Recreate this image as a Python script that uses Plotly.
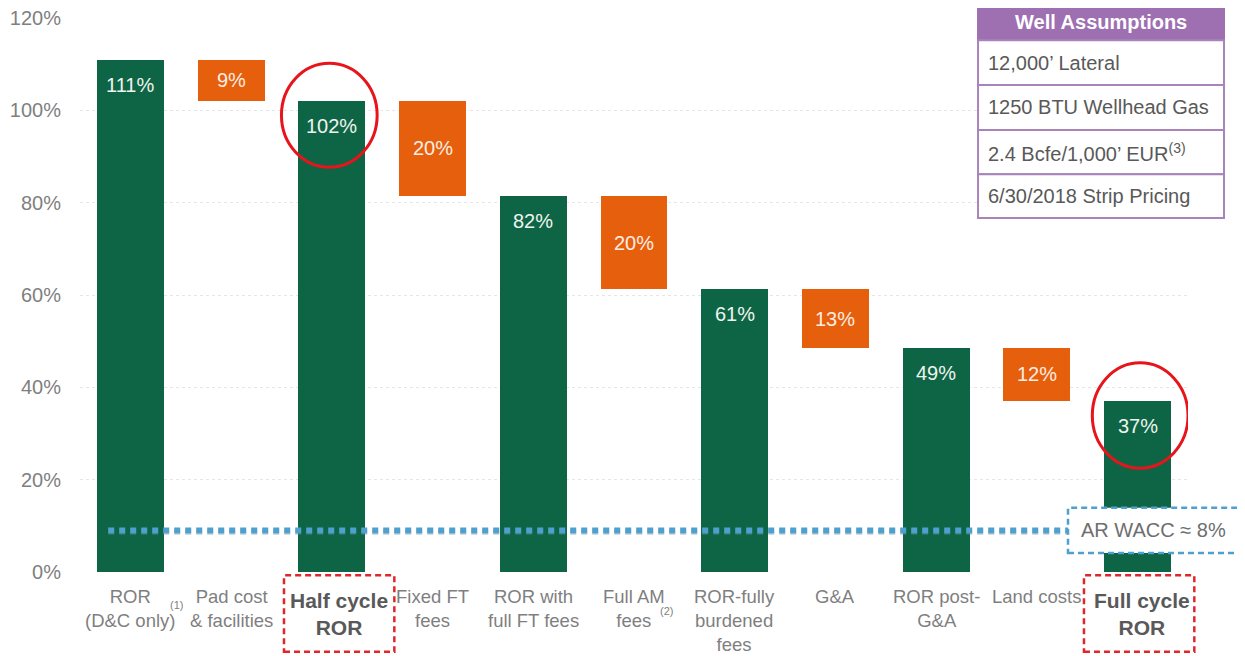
import plotly.graph_objects as go

# ---------------- data ----------------
categories = ["ROR<br>(D&C only)", "Pad cost<br>& facilities", "Half cycle<br>ROR", "Fixed FT<br>fees",
              "ROR with<br>full FT fees", "Full AM<br>fees", "ROR-fully<br>burdened<br>fees", "G&A",
              "ROR post-<br>G&A", "Land costs", "Full cycle<br>ROR"]
total_idx = [0, 2, 4, 6, 8, 10]
total_values = [111.0, 102.0, 81.5, 61.2, 48.6, 37.0]
total_labels = ["111%", "102%", "82%", "61%", "49%", "37%"]
decr_idx = [1, 3, 5, 7, 9]
decr_labels = ["9%", "20%", "20%", "13%", "12%"]
wacc_value = 9.0
wacc_text = "AR WACC ≈ 8%"
table_header = "Well Assumptions"
table_rows = ["12,000’ Lateral", "1250 BTU Wellhead Gas", "2.4 Bcfe/1,000’ EUR<sup>(3)</sup>",
              "6/30/2018 Strip Pricing"]
y_ticks = [0, 20, 40, 60, 80, 100, 120]

GREEN = "#0E6545"
ORANGE = "#E65F0D"
GREY = "#7F7F7F"
FONT = "Liberation Sans, Arial, sans-serif"
BW = 0.665

# decrement bars span from previous total to next total
decr_base = [total_values[k + 1] for k in range(len(decr_idx))]
decr_height = [total_values[k] - total_values[k + 1] for k in range(len(decr_idx))]

fig = go.Figure()
fig.add_trace(go.Bar(x=total_idx, y=total_values, width=BW, marker=dict(color=GREEN, line=dict(width=0)),
                     hoverinfo="skip", showlegend=False))
fig.add_trace(go.Bar(x=decr_idx, y=decr_height, base=decr_base, width=BW,
                     marker=dict(color=ORANGE, line=dict(width=0)), hoverinfo="skip", showlegend=False))

ann = []
for i, v, t in zip(total_idx, total_values, total_labels):
    ann.append(dict(x=i, y=v, text=t, showarrow=False, xanchor="center", yanchor="middle", yshift=-25,
                    font=dict(family=FONT, size=20, color="#EEF4EF")))
for i, b, h, t in zip(decr_idx, decr_base, decr_height, decr_labels):
    ann.append(dict(x=i, y=b + h / 2, text=t, showarrow=False, xanchor="center", yanchor="middle",
                    font=dict(family=FONT, size=20, color="#FCEDE3")))

# category labels
for i, c in enumerate(categories):
    if i in (2, 10):
        ann.append(dict(x=i, y=0, yref="paper", text="<b>" + c + "</b>", showarrow=False,
                        xanchor="center", yanchor="top", yshift=-15, xshift=7 if i == 2 else 4,
                        font=dict(family=FONT, size=21, color="#595959")))
    else:
        ann.append(dict(x=i, y=0, yref="paper", text=c, showarrow=False, xanchor="center",
                        yanchor="top", yshift=-12,
                        font=dict(family=FONT, size=18.5, color=GREY)))
# footnote markers
ann.append(dict(x=0, y=0, yref="paper", text="(1)", showarrow=False, xanchor="center", yanchor="middle",
                xshift=46, yshift=-33, font=dict(family=FONT, size=11, color=GREY)))
ann.append(dict(x=5, y=0, yref="paper", text="(2)", showarrow=False, xanchor="center", yanchor="middle",
                xshift=32, yshift=-39, font=dict(family=FONT, size=11, color=GREY)))

shapes = []
# WACC dotted line (with a soft shadow)
shapes.append(dict(type="line", xref="x", yref="y", x0=-0.22, x1=9.31, y0=wacc_value - 0.35,
                   y1=wacc_value - 0.35,
                   line=dict(color="#7C8790", width=6, dash="6px,5px"), opacity=0.3, layer="above"))
shapes.append(dict(type="line", xref="x", yref="y", x0=-0.22, x1=9.31, y0=wacc_value, y1=wacc_value,
                   line=dict(color="#4EA1CE", width=6, dash="6px,5px"), layer="above"))
# WACC box
shapes.append(dict(type="rect", xref="paper", yref="y", x0=0.8917, x1=1.0469, y0=4.1, y1=13.9,
                   fillcolor="white", line=dict(color="#4EA1CE", width=2.5, dash="6px,4px"), layer="above"))
ann.append(dict(x=0.9693, xref="paper", y=9.0, text=wacc_text, showarrow=False, xanchor="center",
                yanchor="middle", font=dict(family=FONT, size=20, color="#6E6E6E")))

# red circles
shapes.append(dict(type="circle", xref="x", yref="y", x0=1.50, x1=2.45, y0=87.7, y1=110.2,
                   line=dict(color="#E8141B", width=3), layer="above"))
shapes.append(dict(type="circle", xref="x", yref="y", x0=9.55, x1=10.5, y0=22.5, y1=45.3,
                   line=dict(color="#E8141B", width=3), layer="above"))
# red dashed label boxes
for bx0, bx1 in ((0.1841, 0.2837), (0.9061, 1.0057)):
    shapes.append(dict(type="rect", xref="paper", yref="paper", x0=bx0, x1=bx1, y0=-0.144,
                       y1=-0.006, line=dict(color="#E0262B", width=2.5, dash="6px,4px"),
                       fillcolor="rgba(0,0,0,0)"))

# Well Assumptions table (paper coords)
tx0, tx1 = 0.8105, 1.0325
row_edges = [1.0325, 0.960, 0.879, 0.798, 0.718, 0.639]
shapes.append(dict(type="rect", xref="paper", yref="paper", x0=tx0, x1=tx1, y0=row_edges[1],
                   y1=row_edges[0] + 0.02,
                   fillcolor="#9E6FB1", line=dict(color="#9E6FB1", width=2), layer="above"))
for k in range(1, 5):
    shapes.append(dict(type="rect", xref="paper", yref="paper", x0=tx0, x1=tx1, y0=row_edges[k + 1],
                       y1=row_edges[k], fillcolor="white", line=dict(color="#A984BB", width=2),
                       layer="above"))
ann.append(dict(x=(tx0 + tx1) / 2, y=(row_edges[0] + row_edges[1]) / 2 - 0.003, xref="paper", yref="paper",
                text="<b>" + table_header + "</b>", showarrow=False, xanchor="center", yanchor="middle",
                font=dict(family=FONT, size=20, color="white")))
for k, t in enumerate(table_rows):
    ann.append(dict(x=tx0, y=(row_edges[k + 1] + row_edges[k + 2]) / 2, xref="paper", yref="paper",
                    text=t, showarrow=False, xanchor="left", yanchor="middle", xshift=8,
                    font=dict(family=FONT, size=20, color="#595959")))

# the page body adds an 8px offset, so the figure is sized to fit the window
fig.update_layout(
    width=1237, height=648,
    margin=dict(l=72, r=57, t=10, b=84, autoexpand=False),
    paper_bgcolor="white", plot_bgcolor="white",
    barmode="overlay", bargap=0,
    xaxis=dict(range=[-0.5, 10.5], showticklabels=False, showgrid=False, zeroline=False, showline=False,
               automargin=False),
    yaxis=dict(range=[0, 120], tickvals=y_ticks, ticktext=[f"{v}%" for v in y_ticks],
               tickfont=dict(family=FONT, size=20, color=GREY), ticklabelstandoff=18,
               ticklabeloverflow="allow", automargin=False,
               showgrid=True, gridcolor="#E6E6E6", griddash="dot", gridwidth=1,
               zeroline=False, showline=False),
    annotations=ann, shapes=shapes,
)
fig.write_html("out.html")
